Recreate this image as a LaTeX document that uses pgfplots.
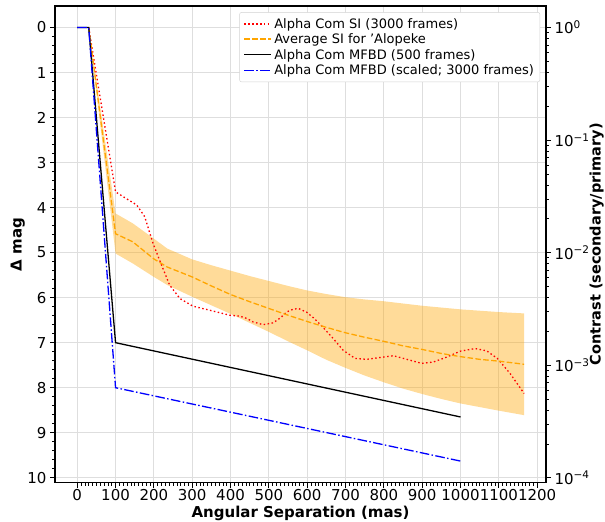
\documentclass[border=0pt]{standalone}
\usepackage{fontspec}
\setmainfont{DejaVu Sans}
\usepackage{pgfplots}
\pgfplotsset{compat=1.18}
\definecolor{mplorange}{RGB}{255,165,0}
\definecolor{mplred}{RGB}{255,0,0}
\definecolor{mplblue}{RGB}{0,0,255}
\definecolor{gridgray}{RGB}{222,222,222}
\definecolor{legframe}{RGB}{210,210,210}
\begin{document}
\begin{tikzpicture}
\useasboundingbox (-55pt,-39.3pt) rectangle (550pt,482.7pt);
\begin{axis}[name=ax, at={(0pt,0pt)}, anchor=south west,
  scale only axis, width=491pt, height=476.7pt,
  xmin=-58, xmax=1223, ymin=-0.478, ymax=10.11, y dir=reverse,
  xtick={0,100,...,1200}, minor x tick num=9,
  ytick={0,1,...,10}, minor y tick num=4,
  tick pos=left, tick align=outside,
  major tick length=5pt, minor tick length=2.8pt,
  major tick style={black, line width=0.9pt},
  minor tick style={black, line width=0.7pt},
  grid=major, major grid style={gridgray, line width=0.9pt},
  axis line style={line width=1.2pt},
  tick label style={font=\fontsize{15}{17}\selectfont},
  xticklabel style={inner sep=1.5pt},
  /pgf/number format/assume math mode=true,
  /pgf/number format/1000 sep={},
  xlabel={\textbf{Angular Separation (mas)}},
  ylabel={\textbf{Δ mag}},
  label style={font=\fontsize{15}{17}\selectfont},
  xlabel style={at={(axis description cs:0.5,-0.0646)}, anchor=center, inner sep=0pt},
  ylabel style={at={(axis description cs:-0.076,0.5)}, anchor=center, inner sep=0pt},
  legend cell align=left,
  legend style={at={(0.988,0.987)}, anchor=north east, draw=legframe,
    rounded corners=2pt, fill=white,
    font=\fontsize{13}{15}\selectfont, row sep=0pt, inner sep=4pt},
]
% band
\addplot[fill=mplorange, fill opacity=0.4, draw=none, forget plot] coordinates {
(30,0) (100,4.13) (145,4.35) (200,4.69) (235,4.91) (300,5.15) (350,5.28) (400,5.40)
(450,5.52) (500,5.63) (550,5.74) (600,5.84) (650,5.92) (700,5.99) (750,6.04) (800,6.08)
(850,6.13) (900,6.18) (950,6.22) (1000,6.26) (1050,6.29) (1100,6.32) (1166,6.35)
(1166,8.61) (1100,8.51) (1050,8.43) (1000,8.35) (950,8.25) (900,8.14) (850,8.02) (800,7.88)
(750,7.73) (700,7.56) (650,7.38) (600,7.17) (550,6.97) (500,6.76) (450,6.56) (400,6.36)
(350,6.17) (300,5.98) (235,5.72) (200,5.54) (145,5.24) (100,5.02) (30,0)
} -- cycle;
% red SI
\addplot[draw=mplred, line width=1.3pt, dash pattern=on 1.5pt off 2.5pt, forget plot] coordinates {
(30,0) (100,3.65) (128,3.80) (155,3.94) (176,4.2) (198,4.8) (215,5.17) (241,5.72)
(268,6.02) (302,6.19) (346,6.28) (398,6.39) (424,6.41) (442,6.46) (459,6.54) (485,6.60)
(511,6.56) (530,6.45) (546,6.32) (562,6.26) (577,6.24) (598,6.32) (618,6.46) (638,6.63)
(668,6.91) (694,7.17) (725,7.35) (755,7.37) (790,7.33) (825,7.29) (860,7.37) (899,7.46)
(929,7.43) (964,7.32) (999,7.19) (1038,7.13) (1068,7.18) (1096,7.35) (1129,7.68) (1166,8.13)
};
% orange mean
\addplot[draw=mplorange, line width=1.3pt, dash pattern=on 5.5pt off 2.4pt, forget plot] coordinates {
(30,0) (100,4.58) (145,4.76) (200,5.14) (235,5.32) (300,5.54) (350,5.74) (400,5.93)
(450,6.09) (500,6.24) (550,6.39) (600,6.53) (650,6.66) (700,6.78) (750,6.88) (800,6.97)
(850,7.07) (900,7.15) (950,7.24) (1000,7.31) (1050,7.37) (1100,7.41) (1166,7.48)
};
% black MFBD
\addplot[draw=black, line width=1.3pt, forget plot] coordinates {(0,0) (30,0) (100,7.0) (1000,8.65)};
% blue scaled
\addplot[draw=mplblue, line width=1.3pt, dash pattern=on 9.6pt off 2.4pt on 1.5pt off 2.4pt, forget plot] coordinates {(0,0) (30,0) (100,8.0) (1000,9.63)};
\addlegendimage{legend image code/.code={\color{mplred}\draw[draw=mplred, line width=1.4pt, dash pattern=on 1.5pt off 2.4pt] (0pt,0pt) -- (27pt,0pt);}}
\addlegendentry{Alpha Com SI (3000 frames)}
\addlegendimage{legend image code/.code={\color{mplorange}\draw[draw=mplorange, line width=1.7pt, dash pattern=on 5.5pt off 2.4pt] (0pt,0.4pt) -- (27pt,0.4pt);}}
\addlegendentry{Average SI for 'Alopeke}
\addlegendimage{legend image code/.code={\color{black}\draw[draw=black, line width=1.3pt] (0pt,0pt) -- (27pt,0pt);}}
\addlegendentry{Alpha Com MFBD (500 frames)}
\addlegendimage{legend image code/.code={\color{mplblue}\draw[draw=mplblue, line width=1.3pt, dash pattern=on 9.6pt off 2.4pt on 1.5pt off 2.4pt] (0pt,0pt) -- (27pt,0pt);}}
\addlegendentry{Alpha Com MFBD (scaled; 3000 frames)}
\end{axis}
\begin{axis}[at={(0pt,0pt)}, anchor=south west,
  scale only axis, width=491pt, height=476.7pt,
  xmin=-58, xmax=1223, ymode=log, ymin=9.04e-5, ymax=1.553,
  axis y line*=right, axis x line=none,
  tick align=outside,
  major tick length=5pt, minor tick length=2.8pt,
  major tick style={black, line width=0.9pt},
  minor tick style={black, line width=0.7pt},
  axis line style={line width=1.2pt},
  tick label style={font=\fontsize{15}{17}\selectfont},
  yticklabel={\pgfmathtruncatemacro{\ee}{round(\tick/2.302585)}10\textsuperscript{\ifnum\ee<0 −\number-\ee\else\ee\fi}},
  ylabel={\textbf{Contrast (secondary/primary)}},
  label style={font=\fontsize{14.5}{17}\selectfont},
  ylabel style={at={(axis description cs:1.103,0.5)}, anchor=center, inner sep=0pt},
]
\addplot[draw=none] coordinates {(0,1)};
\end{axis}
\end{tikzpicture}
\end{document}
